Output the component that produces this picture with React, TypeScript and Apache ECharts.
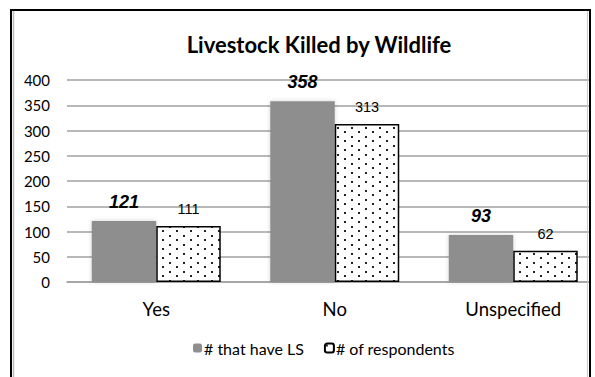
import React, { useEffect, useRef } from "react";
import * as echarts from "echarts";

const categories = ["Yes", "No", "Unspecified"];
const haveLS = [121, 358, 93];
const respondents = [111, 313, 62];
const seriesNames = ["# that have LS", "# of respondents"];
const yTicks = { min: 0, max: 400, interval: 50 };
const titleText = "Livestock Killed by Wildlife";

// Small staggered-dot tile used as the fill of the second series
function makeDotTile(): HTMLCanvasElement {
  const c = document.createElement("canvas");
  c.width = 14;
  c.height = 9;
  const ctx = c.getContext("2d")!;
  ctx.fillStyle = "#ffffff";
  ctx.fillRect(0, 0, 14, 9);
  ctx.fillStyle = "#222222";
  ctx.fillRect(1, 1, 2, 2);
  ctx.fillRect(8, 5, 2, 2);
  return c;
}

export default function App() {
  const ref = useRef<HTMLDivElement>(null);

  useEffect(() => {
    if (!ref.current) return;
    const chart = echarts.init(ref.current, undefined, { renderer: "svg" });
    const tile = makeDotTile();
    const dotted: any = {
      image: tile,
      repeat: "repeat",
      imageWidth: tile.width,
      imageHeight: tile.height,
    };

    chart.setOption({
      animation: false,
      backgroundColor: "#ffffff",
      title: {
        text: titleText,
        left: 314,
        textAlign: "center",
        top: 28,
        textStyle: {
          fontFamily: "Lato",
          fontWeight: "bold",
          fontSize: 22,
          color: "#000",
        },
      },
      legend: {
        left: 188,
        top: 335,
        itemWidth: 9,
        itemHeight: 9,
        itemGap: 20,
        textStyle: {
          fontFamily: "Lato",
          fontSize: 16,
          color: "#000",
          padding: [0, 0, 0, -3],
        },
        data: seriesNames,
      },
      grid: {
        left: 67,
        top: 80,
        width: 535.5,
        height: 202,
        containLabel: false,
        outerBoundsMode: "none",
      },
      xAxis: {
        type: "category",
        data: categories,
        axisTick: { show: false },
        axisLine: { lineStyle: { color: "#a0a0a0", width: 1.5 } },
        axisLabel: {
          margin: 17,
          fontFamily: "Lato",
          fontSize: 18.5,
          color: "#000",
        },
      },
      yAxis: {
        type: "value",
        min: yTicks.min,
        max: yTicks.max,
        interval: yTicks.interval,
        axisLine: { show: false },
        axisTick: { show: false },
        axisLabel: {
          margin: 17,
          fontFamily: "Lato",
          fontSize: 15,
          color: "#000",
        },
        splitLine: { lineStyle: { color: "#a0a0a0", width: 1.5 } },
      },
      series: [
        {
          name: seriesNames[0],
          type: "bar",
          data: haveLS,
          barWidth: 64.5,
          barGap: "0%",
          itemStyle: {
            color: "#8e8e8e",
            shadowColor: "rgba(0,0,0,0.18)",
            shadowBlur: 4,
          },
          label: {
            show: true,
            position: "top",
            distance: 10,
            fontFamily: "Liberation Sans",
            fontStyle: "italic",
            fontWeight: "bold",
            fontSize: 18,
            color: "#000",
          },
        },
        {
          name: seriesNames[1],
          type: "bar",
          data: respondents,
          barWidth: 64.5,
          barGap: "0%",
          itemStyle: {
            color: dotted,
            borderColor: "#000",
            borderWidth: 1.5,
          },
          label: {
            show: true,
            position: "top",
            distance: 9,
            fontFamily: "Liberation Sans",
            fontSize: 14.5,
            color: "#000",
          },
        },
      ],
      graphic: [
        {
          type: "rect",
          z: 100,
          shape: { x: 591, y: 0, width: 10, height: 377 },
          style: { fill: "#ffffff" },
          silent: true,
        },
        {
          type: "rect",
          z: 101,
          shape: { x: 11, y: 10, width: 579, height: 400 },
          style: { fill: "none", stroke: "#000", lineWidth: 2 },
          silent: true,
        },
        {
          type: "line",
          z: 101,
          shape: { x1: 13.5, y1: 11, x2: 13.5, y2: 377 },
          style: { stroke: "#bdbdbd", lineWidth: 1.5 },
          silent: true,
        },
        {
          type: "line",
          z: 101,
          shape: { x1: 587.5, y1: 11, x2: 587.5, y2: 377 },
          style: { stroke: "#c8c8c8", lineWidth: 1 },
          silent: true,
        },
      ],
    });

    return () => chart.dispose();
  }, []);

  return (
    <div
      style={{
        position: "fixed",
        left: 0,
        top: 0,
        width: 595,
        height: 377,
        background: "#fff",
        overflow: "hidden",
      }}
    >
      <div ref={ref} style={{ width: 595, height: 377 }} />
    </div>
  );
}
